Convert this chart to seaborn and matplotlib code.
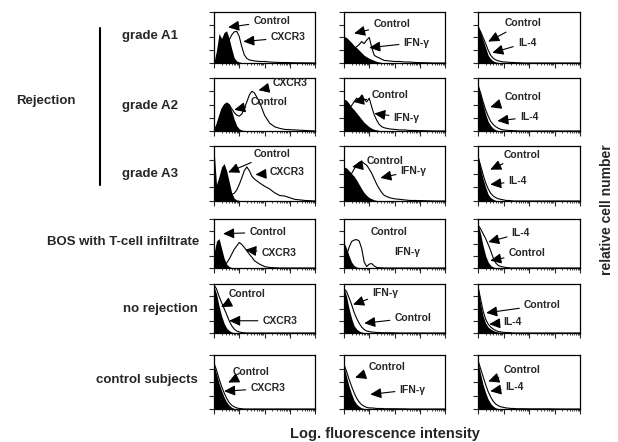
import matplotlib
matplotlib.use("Agg")
import matplotlib.pyplot as plt
from matplotlib.lines import Line2D
import numpy as np
import seaborn as sns

# log fluorescence channel (decades) shared by every histogram
channel = [0.0, 0.1, 0.2, 0.3, 0.4, 0.5, 0.6, 0.7, 0.8, 0.9,
           1.0, 1.1, 1.2, 1.3, 1.4, 1.5, 1.6, 1.8, 2.0, 2.2,
           2.4, 2.6, 2.8, 3.2, 3.6, 4.0]

# relative cell number (% of panel height): filled control / open stained
ctrl_a1_cxcr3 = [2, 25, 58, 48, 60, 63, 48, 28, 10, 4, 2, 1, 0.5, 0, 0, 0, 0, 0, 0, 0, 0, 0, 0, 0, 0, 0]
stain_a1_cxcr3 = [1, 5, 12, 18, 25, 35, 45, 55, 61, 62, 52, 32, 16, 9, 6, 5, 4, 3, 3, 2, 1.5, 1, 1, 0.5, 0.3, 0]
ctrl_a1_ifng = [52, 50, 45, 40, 34, 30, 25, 20, 15, 12, 9, 7, 5, 3, 2, 1, 0.5, 0, 0, 0, 0, 0, 0, 0, 0, 0]
stain_a1_ifng = [30, 28, 26, 25, 28, 32, 36, 42, 38, 45, 50, 30, 15, 12, 10, 7, 5, 4, 3, 3, 2, 2, 1, 0.5, 0, 0]
ctrl_a1_il4 = [75, 60, 45, 30, 15, 8, 4, 2, 1, 0.5, 0, 0, 0, 0, 0, 0, 0, 0, 0, 0, 0, 0, 0, 0, 0, 0]
stain_a1_il4 = [70, 62, 50, 38, 25, 15, 9, 6, 4, 3, 2, 2, 1.5, 1, 1, 0.5, 0.5, 0, 0, 0, 0, 0, 0, 0, 0, 0]

ctrl_a2_cxcr3 = [3, 15, 30, 45, 52, 55, 50, 38, 22, 10, 4, 2, 1, 0, 0, 0, 0, 0, 0, 0, 0, 0, 0, 0, 0, 0]
stain_a2_cxcr3 = [2, 10, 25, 40, 48, 52, 50, 42, 35, 30, 28, 32, 42, 55, 68, 75, 72, 55, 30, 15, 8, 5, 3, 2, 1, 0]
ctrl_a2_ifng = [60, 58, 52, 45, 40, 34, 28, 22, 16, 12, 8, 5, 3, 2, 1, 0.5, 0, 0, 0, 0, 0, 0, 0, 0, 0, 0]
stain_a2_ifng = [40, 38, 42, 48, 55, 62, 58, 68, 60, 55, 62, 45, 30, 20, 12, 8, 6, 4, 3, 2, 2, 1, 1, 0.5, 0, 0]
ctrl_a2_il4 = [90, 70, 50, 32, 18, 10, 5, 2, 1, 0.5, 0, 0, 0, 0, 0, 0, 0, 0, 0, 0, 0, 0, 0, 0, 0, 0]
stain_a2_il4 = [85, 72, 55, 40, 28, 18, 12, 8, 5, 3, 2, 1.5, 1, 1, 0.5, 0.5, 0, 0, 0, 0, 0, 0, 0, 0, 0, 0]

ctrl_a3_cxcr3 = [95, 30, 45, 62, 68, 55, 35, 15, 5, 2, 1, 0.5, 0, 0, 0, 0, 0, 0, 0, 0, 0, 0, 0, 0, 0, 0]
stain_a3_cxcr3 = [10, 15, 25, 30, 28, 22, 15, 12, 14, 20, 30, 42, 55, 62, 55, 45, 40, 33, 27, 22, 15, 10, 9, 3, 1, 0]
ctrl_a3_ifng = [62, 60, 55, 50, 45, 38, 30, 22, 15, 10, 6, 4, 2, 1, 0.5, 0, 0, 0, 0, 0, 0, 0, 0, 0, 0, 0]
stain_a3_ifng = [35, 38, 42, 50, 58, 65, 70, 72, 68, 65, 58, 50, 40, 30, 22, 15, 10, 6, 4, 3, 2, 1, 1, 0.5, 0, 0]
ctrl_a3_il4 = [85, 60, 40, 25, 12, 6, 3, 1, 0.5, 0, 0, 0, 0, 0, 0, 0, 0, 0, 0, 0, 0, 0, 0, 0, 0, 0]
stain_a3_il4 = [80, 65, 48, 33, 22, 14, 9, 6, 4, 3, 2, 1, 1, 0.5, 0, 0, 0, 0, 0, 0, 0, 0, 0, 0, 0, 0]

ctrl_bos_cxcr3 = [30, 55, 60, 40, 20, 8, 3, 1, 0.5, 0, 0, 0, 0, 0, 0, 0, 0, 0, 0, 0, 0, 0, 0, 0, 0, 0]
stain_bos_cxcr3 = [0, 0, 0, 2, 5, 10, 18, 28, 38, 45, 52, 48, 42, 35, 28, 22, 15, 8, 3, 1, 0.5, 0, 0, 0, 0, 0]
ctrl_bos_ifng = [52, 40, 25, 12, 5, 2, 1, 0, 0, 0, 0, 0, 0, 0, 0, 0, 0, 0, 0, 0, 0, 0, 0, 0, 0, 0]
stain_bos_ifng = [20, 25, 42, 54, 57, 58, 55, 40, 12, 3, 8, 9, 4, 1, 0.5, 0.5, 0, 0, 0, 0, 0, 0, 0, 0, 0, 0]
ctrl_bos_il4 = [90, 70, 45, 25, 12, 5, 2, 1, 0.5, 0, 0, 0, 0, 0, 0, 0, 0, 0, 0, 0, 0, 0, 0, 0, 0, 0]
stain_bos_il4 = [88, 80, 70, 60, 48, 35, 20, 10, 5, 3, 2, 1, 0.5, 0, 0, 0, 0, 0, 0, 0, 0, 0, 0, 0, 0, 0]

ctrl_norej_cxcr3 = [95, 80, 55, 35, 20, 10, 5, 2, 1, 0, 0, 0, 0, 0, 0, 0, 0, 0, 0, 0, 0, 0, 0, 0, 0, 0]
stain_norej_cxcr3 = [98, 90, 75, 62, 50, 38, 25, 15, 8, 4, 2, 1, 0.5, 0, 0, 0, 0, 0, 0, 0, 0, 0, 0, 0, 0, 0]
ctrl_norej_ifng = [92, 75, 50, 30, 15, 8, 4, 2, 1, 0, 0, 0, 0, 0, 0, 0, 0, 0, 0, 0, 0, 0, 0, 0, 0, 0]
stain_norej_ifng = [90, 85, 72, 58, 42, 30, 20, 12, 7, 4, 3, 2, 1.5, 1, 1, 0.5, 0.5, 0.5, 0.3, 0, 0, 0, 0, 0, 0, 0]
ctrl_norej_il4 = [98, 60, 35, 20, 12, 8, 5, 3, 2, 1.5, 1, 1, 0.5, 0.5, 0.5, 0.5, 0.5, 0.5, 0.3, 0, 0, 0, 0, 0, 0, 0]
stain_norej_il4 = [95, 70, 45, 28, 18, 12, 8, 5, 3, 2, 1.5, 1, 1, 0.5, 0, 0, 0, 0, 0, 0, 0, 0, 0, 0, 0, 0]

ctrl_subj_cxcr3 = [82, 65, 48, 34, 22, 13, 7, 3, 1, 0.5, 0, 0, 0, 0, 0, 0, 0, 0, 0, 0, 0, 0, 0, 0, 0, 0]
stain_subj_cxcr3 = [85, 72, 56, 42, 30, 20, 12, 7, 4, 2, 1, 0.5, 0, 0, 0, 0, 0, 0, 0, 0, 0, 0, 0, 0, 0, 0]
ctrl_subj_ifng = [80, 60, 42, 28, 16, 9, 5, 2, 1, 0, 0, 0, 0, 0, 0, 0, 0, 0, 0, 0, 0, 0, 0, 0, 0, 0]
stain_subj_ifng = [82, 70, 55, 42, 30, 20, 13, 8, 5, 3, 2, 2, 1.5, 1, 1, 1, 0.5, 0.5, 0.5, 0.3, 0.3, 0, 0, 0, 0, 0]
ctrl_subj_il4 = [88, 65, 45, 30, 18, 10, 5, 2, 1, 0, 0, 0, 0, 0, 0, 0, 0, 0, 0, 0, 0, 0, 0, 0, 0, 0]
stain_subj_il4 = [90, 75, 60, 45, 32, 22, 14, 9, 6, 4, 3, 2, 1.5, 1, 1, 0.5, 0.5, 0.5, 0.3, 0.3, 0.3, 0.3, 0.3, 0, 0, 0]

panels = [
    [(ctrl_a1_cxcr3, stain_a1_cxcr3), (ctrl_a1_ifng, stain_a1_ifng), (ctrl_a1_il4, stain_a1_il4)],
    [(ctrl_a2_cxcr3, stain_a2_cxcr3), (ctrl_a2_ifng, stain_a2_ifng), (ctrl_a2_il4, stain_a2_il4)],
    [(ctrl_a3_cxcr3, stain_a3_cxcr3), (ctrl_a3_ifng, stain_a3_ifng), (ctrl_a3_il4, stain_a3_il4)],
    [(ctrl_bos_cxcr3, stain_bos_cxcr3), (ctrl_bos_ifng, stain_bos_ifng), (ctrl_bos_il4, stain_bos_il4)],
    [(ctrl_norej_cxcr3, stain_norej_cxcr3), (ctrl_norej_ifng, stain_norej_ifng), (ctrl_norej_il4, stain_norej_il4)],
    [(ctrl_subj_cxcr3, stain_subj_cxcr3), (ctrl_subj_ifng, stain_subj_ifng), (ctrl_subj_il4, stain_subj_il4)],
]

# label text, text position, arrow tip (axes fraction); None = no arrow
notes = {
    (0, 0): [("Control", (0.39, 0.82), (0.14, 0.70)), ("CXCR3", (0.56, 0.50), (0.29, 0.42))],
    (0, 1): [("Control", (0.29, 0.76), (0.10, 0.58)), ("IFN-γ", (0.59, 0.40), (0.25, 0.30))],
    (0, 2): [("Control", (0.26, 0.78), (0.10, 0.42)), ("IL-4", (0.39, 0.40), (0.14, 0.20))],
    (1, 0): [("Control", (0.36, 0.55), (0.20, 0.40)), ("CXCR3", (0.58, 0.90), (0.44, 0.77))],
    (1, 1): [("Control", (0.27, 0.68), (0.09, 0.55)), ("IFN-γ", (0.49, 0.25), (0.30, 0.33))],
    (1, 2): [("Control", (0.26, 0.64), (0.12, 0.45)), ("IL-4", (0.41, 0.26), (0.19, 0.19))],
    (2, 0): [("Control", (0.39, 0.86), (0.14, 0.52)), ("CXCR3", (0.55, 0.52), (0.41, 0.48))],
    (2, 1): [("Control", (0.22, 0.72), (0.08, 0.62)), ("IFN-γ", (0.56, 0.55), (0.36, 0.42))],
    (2, 2): [("Control", (0.25, 0.84), (0.12, 0.57)), ("IL-4", (0.30, 0.36), (0.12, 0.30))],
    (3, 0): [("Control", (0.35, 0.73), (0.09, 0.70)), ("CXCR3", (0.47, 0.30), (0.31, 0.37))],
    (3, 1): [("Control", (0.26, 0.73), None), ("IFN-γ", (0.50, 0.33), None)],
    (3, 2): [("IL-4", (0.33, 0.71), (0.10, 0.53)), ("Control", (0.30, 0.30), (0.12, 0.15))],
    (4, 0): [("Control", (0.14, 0.80), (0.07, 0.53)), ("CXCR3", (0.48, 0.25), (0.15, 0.25))],
    (4, 1): [("IFN-γ", (0.28, 0.82), (0.09, 0.58)), ("Control", (0.50, 0.31), (0.20, 0.20))],
    (4, 2): [("Control", (0.45, 0.57), (0.08, 0.41)), ("IL-4", (0.25, 0.22), (0.11, 0.18))],
    (5, 0): [("Control", (0.18, 0.69), (0.14, 0.49)), ("CXCR3", (0.36, 0.38), (0.10, 0.33))],
    (5, 1): [("Control", (0.24, 0.78), (0.11, 0.58)), ("IFN-γ", (0.55, 0.36), (0.26, 0.27))],
    (5, 2): [("Control", (0.25, 0.73), (0.10, 0.51)), ("IL-4", (0.27, 0.40), (0.12, 0.33))],
}

# panel boxes in pixels
col_px = [(214, 315), (344, 445), (478, 580)]
row_px = [(12, 63), (78, 131), (146, 201), (219, 268), (284, 333), (355, 409)]

W, H = 618, 442

sns.set_style("ticks")
plt.rcParams["font.family"] = ["Liberation Sans", "DejaVu Sans"]
plt.rcParams["font.weight"] = "bold"

fig = plt.figure(figsize=(W / 100, H / 100), dpi=100)

minor_x = [d + np.log10(k) for d in range(4) for k in range(2, 10)]

for r, (y0, y1) in enumerate(row_px):
    for c, (x0, x1) in enumerate(col_px):
        ax = fig.add_axes([x0 / W, 1 - y1 / H, (x1 - x0) / W, (y1 - y0) / H])
        ctrl, stain = panels[r][c]
        ax.fill_between(channel, ctrl, color="black", lw=0)
        sns.lineplot(x=channel, y=stain, ax=ax, color="black", lw=0.8)
        ax.set_xlim(0, 4)
        ax.set_ylim(0, 100)
        ax.set_xticks([0, 1, 2, 3, 4])
        ax.set_xticks(minor_x, minor=True)
        ax.set_yticks([0, 25, 50, 75, 100])
        ax.tick_params(direction="out", length=3.5, width=0.8, labelbottom=False, labelleft=False)
        ax.tick_params(which="minor", direction="out", length=1.6, width=0.6)
        ax.set_xlabel("")
        ax.set_ylabel("")
        for sp in ax.spines.values():
            sp.set_visible(True)
            sp.set_linewidth(0.9)
            sp.set_color("black")
        for text, pos, tip in notes[(r, c)]:
            if tip is None:
                ax.text(pos[0], pos[1], text, transform=ax.transAxes, ha="left", va="center",
                        fontsize=7.5, fontweight="bold")
            else:
                ax.annotate(text, xy=tip, xytext=pos, xycoords="axes fraction",
                            textcoords="axes fraction", ha="left", va="center",
                            fontsize=7.5, fontweight="bold",
                            arrowprops=dict(arrowstyle="-|>,head_length=0.6,head_width=0.28",
                                            color="black", lw=0.8, mutation_scale=11,
                                            shrinkA=1, shrinkB=0))


def label(x, y, s, **kw):
    fig.text(x / W, 1 - y / H, s, fontsize=9.5, fontweight="bold", va="center", **kw)


label(16, 101, "Rejection", ha="left")
label(122, 36, "grade A1", ha="left")
label(122, 106, "grade A2", ha="left")
label(122, 174, "grade A3", ha="left")
label(199, 242, "BOS with T-cell infiltrate", ha="right")
label(198, 309, "no rejection", ha="right")
label(198, 380, "control subjects", ha="right")
fig.add_artist(Line2D([100 / W, 100 / W], [1 - 28 / H, 1 - 185 / H], color="black", lw=1.5))

fig.text(607 / W, 1 - 210 / H, "relative cell number", rotation=90, ha="center", va="center",
         fontsize=10, fontweight="bold")
fig.text(385 / W, 1 - 434 / H, "Log. fluorescence intensity", ha="center", va="center",
         fontsize=10.5, fontweight="bold")

fig.savefig("out.png", dpi=100)
